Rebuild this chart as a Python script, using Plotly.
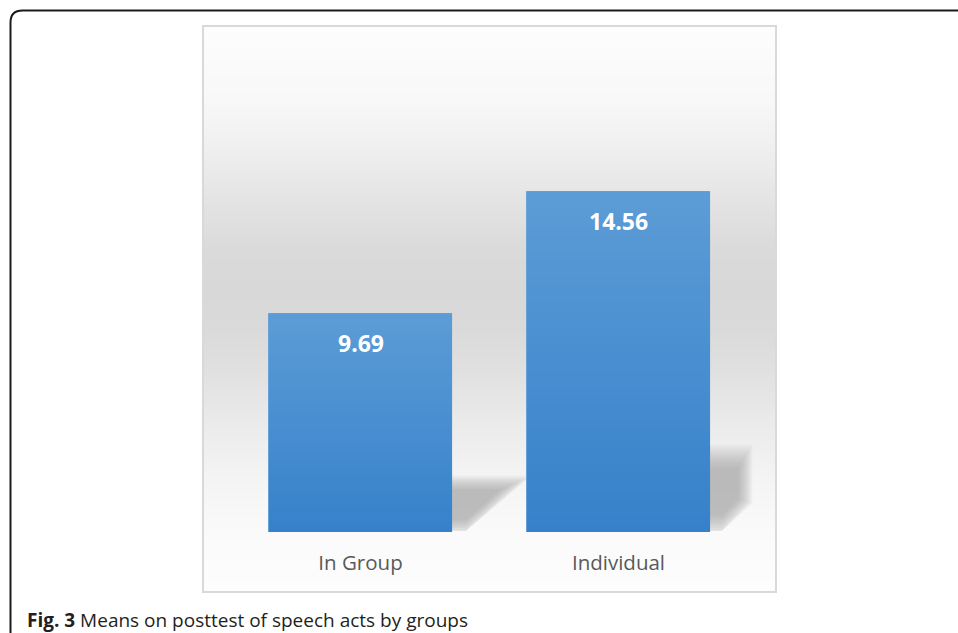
import plotly.graph_objects as go

# Data
groups = ["In Group", "Individual"]
means = [9.69, 14.56]
caption_label = "Fig. 3"
caption_text = "Means on posttest of speech acts by groups"

W, H = 958, 633
# plot area in pixels (left, right, top, bottom = bar baseline)
PL, PR, PT, PB = 203, 776, 26, 532
BOX_BOTTOM = 592
BAR_W = 0.71
R0 = 1.0  # lower end of the (hidden) value axis


def px(x):
    return (x - PL) / (PR - PL)


def py(y):
    return (PB - y) / (PB - PT)


fig = go.Figure()
fig.add_trace(go.Bar(
    x=groups, y=means, width=BAR_W,
    marker=dict(color="#4a8ed1", line=dict(color="#6aa5da", width=1)),
    hoverinfo="x+y",
))

shapes = []

# vertical grey gradient behind the bars (light at top and bottom, darker in the middle)
stops = [(26, 253), (100, 248), (150, 239), (200, 228), (250, 218), (290, 216),
         (330, 218), (380, 226), (430, 236), (480, 244), (530, 250), (592, 253)]


def grey_at(y):
    for (y0, g0), (y1, g1) in zip(stops[:-1], stops[1:]):
        if y0 <= y <= y1:
            t = (y - y0) / (y1 - y0)
            return g0 + (g1 - g0) * t
    return stops[-1][1]


step = 3
y = PT
while y < BOX_BOTTOM:
    g = int(round(grey_at(y + step / 2)))
    shapes.append(dict(type="rect", xref="paper", yref="paper", layer="below",
                       x0=0, x1=1, y0=py(min(y + step, BOX_BOTTOM)), y1=py(y),
                       fillcolor=f"rgb({g},{g},{g})", line=dict(width=0)))
    y += step

# soft drop shadows to the right of each bar foot (stacked translucent layers)
shadow_polys = [
    [(440, 480), (522, 480), (466, 530), (440, 530)],
    [(700, 452), (748, 452), (748, 502), (722, 530), (700, 530)],
]
for poly in shadow_polys:
    cx = sum(p[0] for p in poly) / len(poly)
    cy = sum(p[1] for p in poly) / len(poly)
    n = 14
    for k in range(n):
        s = 1.18 - k * 0.045
        pts = [(cx + (x - cx) * s, cy + (y - cy) * s) for x, y in poly]
        pts = [(x, min(y, PB - 1)) for x, y in pts]
        path = "M " + " L ".join(f"{px(x):.5f},{py(y):.5f}" for x, y in pts) + " Z"
        shapes.append(dict(type="path", xref="paper", yref="paper", layer="below",
                           path=path, fillcolor="rgba(140,140,140,0.055)",
                           line=dict(width=0)))

# vertical colour gradient painted over each bar, from its base up to its value
top_rgb = (92, 156, 214)
bot_rgb = (54, 129, 202)
n_bands = 40
for i, v in enumerate(means):
    for k in range(n_bands):
        t0 = k / n_bands
        t1 = (k + 1) / n_bands
        tm = (t0 + t1) / 2
        c = tuple(int(round(b + (t - b) * tm)) for b, t in zip(bot_rgb, top_rgb))
        shapes.append(dict(type="rect", xref="x", yref="y", layer="above",
                           x0=i - BAR_W / 2, x1=i + BAR_W / 2,
                           y0=R0 + (v - R0) * t0, y1=R0 + (v - R0) * t1 + 0.02,
                           fillcolor=f"rgb{c}", line=dict(width=0)))

# chart box border
shapes.append(dict(type="rect", xref="paper", yref="paper", layer="above",
                   x0=px(PL), x1=px(PR), y0=py(BOX_BOTTOM), y1=py(PT),
                   fillcolor="rgba(0,0,0,0)", line=dict(color="#d9d9d9", width=2)))

# outer figure frame with rounded top-left corner
fx, fy, r = 10.5, 10.5, 12
frame_pts = f"M {px(fx):.5f},{py(700):.5f} L {px(fx):.5f},{py(fy + r):.5f} " \
            f"Q {px(fx):.5f},{py(fy):.5f} {px(fx + r):.5f},{py(fy):.5f} " \
            f"L {px(1100):.5f},{py(fy):.5f}"
shapes.append(dict(type="path", xref="paper", yref="paper", layer="above",
                   path=frame_pts, line=dict(color="#1a1a1a", width=2)))

annotations = []
for g, v in zip(groups, means):
    annotations.append(dict(x=g, y=v, xref="x", yref="y", text=f"<b>{v:.2f}</b>",
                            showarrow=False, yanchor="top", yshift=-11,
                            font=dict(family="Open Sans", size=23, color="white")))

annotations.append(dict(x=px(25), y=py(620), xref="paper", yref="paper",
                        xanchor="left", yanchor="middle", showarrow=False,
                        text=f"<b>{caption_label}</b> {caption_text}",
                        font=dict(family="Open Sans", size=19, color="#231f20")))

scale = (PB - 192) / (means[1] - R0)
top = R0 + (PB - PT) / scale

fig.update_layout(
    width=W, height=H,
    margin=dict(l=PL, r=W - PR, t=PT, b=H - PB, pad=0),
    paper_bgcolor="white", plot_bgcolor="rgba(0,0,0,0)",
    showlegend=False, bargap=0,
    shapes=shapes, annotations=annotations,
    xaxis=dict(range=[-0.6105, 1.6105], showgrid=False, zeroline=False,
               showline=False, ticks="", ticklabelstandoff=16,
               tickfont=dict(family="Open Sans", size=20.5, color="#595959")),
    yaxis=dict(range=[R0, top], visible=False, showgrid=False, zeroline=False),
)

fig.write_html("out.html")
